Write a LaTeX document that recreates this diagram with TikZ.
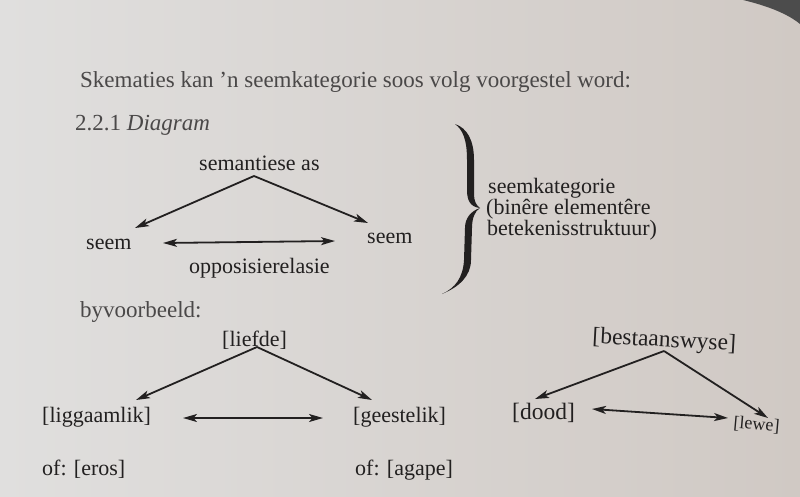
\documentclass[tikz,border=0pt]{standalone}
\usepackage{fontspec}
\setmainfont{Liberation Serif}
\usetikzlibrary{arrows.meta}
\definecolor{ink}{RGB}{34,32,32}
\definecolor{greyink}{RGB}{74,72,72}
\definecolor{paperL}{RGB}{224,223,222}
\definecolor{paperR}{RGB}{208,201,196}
\begin{document}
\begin{tikzpicture}[x=1pt,y=-1pt,
  txt/.style={anchor=base west,inner sep=0pt,text=ink,font=\fontsize{22}{26}\selectfont},
  gtxt/.style={txt,text=greyink,font=\fontsize{23}{27}\selectfont},
  rtxt/.style={txt,font=\fontsize{23.5}{27}\selectfont},
  tip/.style={},
  arr/.style={draw=ink,line width=1.8pt,-{Stealth[length=14pt,width=8pt,inset=3.5pt]}},
  darr/.style={draw=ink,line width=1.8pt,{Stealth[length=14pt,width=8pt,inset=3.5pt]}-{Stealth[length=14pt,width=8pt,inset=3.5pt]}}]
\useasboundingbox (0,0) rectangle (800,496);
\shade[left color=paperL,right color=paperR] (0,0) rectangle (800,496);
\fill[black!70] (743,0) .. controls (768,6) and (788,14) .. (800,24) -- (800,0) -- cycle;

% header
\node[gtxt] (intro) at (80,87) {Skematies kan ’n seemkategorie soos volg voorgestel word:};
\node[gtxt] (sect) at (75,130) {2.2.1 \textit{Diagram}};

% general diagram
\node[txt] (sem) at (199,170) {semantiese as};
\node[txt] (seemL) at (86,249) {seem};
\node[txt] (seemR) at (367,243) {seem};
\node[txt] (opp) at (189,273) {opposisierelasie};
\coordinate (apex1) at (254,176);
\coordinate (tipL1) at (135,228);
\coordinate (tipR1) at (368,223);
\coordinate (dl1) at (163,243);
\coordinate (dr1) at (335,241);
\draw[arr] (apex1) -- (tipL1);
\draw[arr] (apex1) -- (tipR1);
\draw[darr] (dl1) -- (dr1);

% brace
\fill[ink] (455,124) .. controls (467,128) and (474,140) .. (474,160)
  -- (474,194) .. controls (474,201) and (476,205) .. (480,208)
  .. controls (470,207) and (467,200) .. (467,190)
  -- (467,160) .. controls (467,140) and (463,130) .. (455,124) -- cycle;
\fill[ink] (480,208) .. controls (471,211) and (465,218) .. (465,228)
  -- (464,260) .. controls (463,278) and (455,288) .. (442,294)
  .. controls (459,287) and (471,276) .. (471,260)
  -- (472,228) .. controls (472,218) and (475,211) .. (480,208) -- cycle;
\node[txt] (cat1) at (488,193) {seemkategorie};
\node[txt] (cat2) at (486,214) {(binêre elementêre};
\node[txt] (cat3) at (487,235) {betekenisstruktuur)};

% example 1
\node[gtxt] (byv) at (80,317) {byvoorbeeld:};
\node[txt] (liefde) at (222,346) {[liefde]};
\node[txt] (ligg) at (42,422) {[liggaamlik]};
\node[txt] (gees) at (353,422) {[geestelik]};
\node[txt] (eros) at (42,475) {of: [eros]};
\node[txt] (agape) at (355,475) {of: [agape]};
\coordinate (apex2) at (257,347);
\coordinate (tipL2) at (136,400);
\coordinate (tipR2) at (372,400);
\coordinate (dl2) at (183,418);
\coordinate (dr2) at (323,418);
\draw[arr] (apex2) -- (tipL2);
\draw[arr] (apex2) -- (tipR2);
\draw[darr] (dl2) -- (dr2);

% example 2
\node[rtxt,rotate=-3] (best) at (592,343) {[bestaanswyse]};
\node[rtxt] (dood) at (512,419) {[dood]};
\node[txt,rotate=-5,font=\fontsize{18}{21}\selectfont] (lewe) at (733,428) {[lewe]};
\coordinate (apex3) at (664,351);
\coordinate (tipL3) at (535,399);
\coordinate (tipR3) at (768,418);
\coordinate (dl3) at (592,409);
\coordinate (dr3) at (728,418);
\draw[arr] (apex3) -- (tipL3);
\draw[arr] (apex3) -- (tipR3);
\draw[darr] (dl3) -- (dr3);
\end{tikzpicture}
\end{document}
